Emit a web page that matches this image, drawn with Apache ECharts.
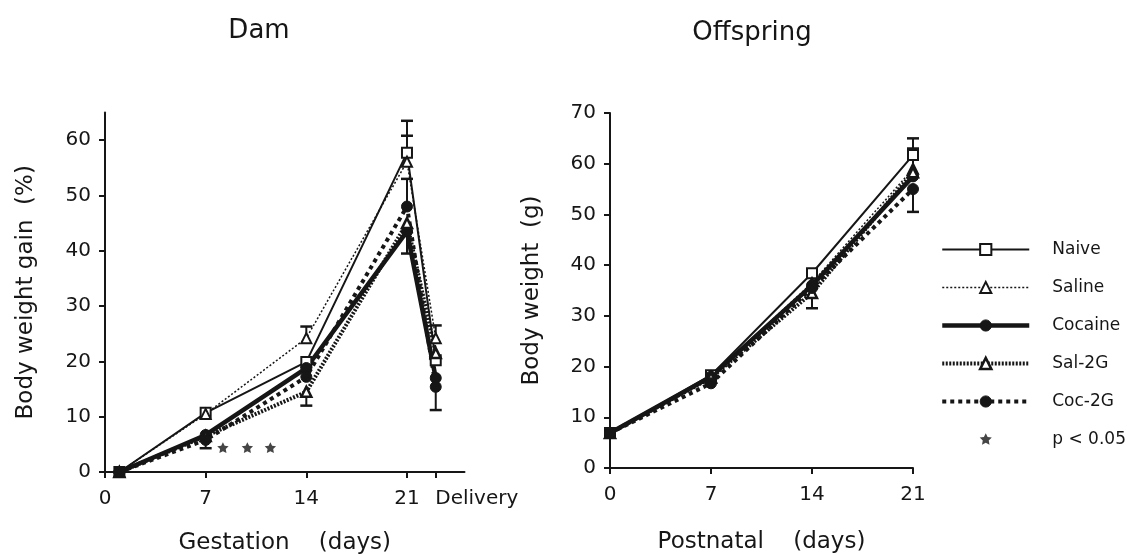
<!DOCTYPE html>
<html><head><meta charset="utf-8">
<script src="https://cdn.jsdelivr.net/npm/echarts@6/dist/echarts.min.js"></script>
<style>html,body{margin:0;padding:0;background:#fff}#c{width:1130px;height:554px}</style>
</head><body><div id="c"></div>
<script>
// ---------- data ----------
const seriesNames = ['Naive', 'Saline', 'Cocaine', 'Sal-2G', 'Coc-2G'];
const sigName = 'p < 0.05';

// Dam (gestation) - body weight gain (%)
const damDays = [1, 7, 14, 21, 23];
const damNaive   = [0, 10.7, 19.9, 57.7, 20.2];
const damSaline  = [0, 10.5, 24.2, 56.1, 24.2];
const damCocaine = [0, 6.7, 18.8, 43.5, 17.0];
const damSal2G   = [0, 6.5, 14.5, 45.0, 21.5];
const damCoc2G   = [0, 5.8, 17.2, 48.0, 15.4];
const damXTickValues = [0, 7, 14, 21, 23];
const damXTickLabels = ['0', '7', '14', '21', 'Delivery'];
const damYTickValues = [0, 10, 20, 30, 40, 50, 60];
// error bars: [day, mean, end of bar]
const damErrors = [[7, 5.8, 4.3], [14, 24.2, 26.3], [14, 14.5, 12.0], [21, 57.7, 63.5], [21, 56.1, 60.8],
                   [21, 48.0, 53.0], [21, 45.0, 39.5], [23, 24.2, 26.5], [23, 15.4, 11.2]];
const damSignificant = [[8.2, 4.3], [9.9, 4.3], [11.5, 4.3]];

// Offspring (postnatal) - body weight (g)
const offDays = [0, 7, 14, 21];
const offNaive   = [6.9, 18.3, 38.4, 61.7];
const offSaline  = [6.9, 18.0, 36.5, 59.0];
const offCocaine = [6.9, 18.0, 36.0, 57.5];
const offSal2G   = [6.9, 17.8, 34.5, 58.3];
const offCoc2G   = [6.9, 16.7, 35.5, 55.0];
const offXTickValues = [0, 7, 14, 21];
const offXTickLabels = ['0', '7', '14', '21'];
const offYTickValues = [0, 10, 20, 30, 40, 50, 60, 70];
const offErrors = [[14, 34.5, 31.5], [21, 61.7, 65.0], [21, 59.0, 63.0], [21, 55.0, 50.5]];

// ---------- styles ----------
const INK = '#161616';
const FONT = 'DejaVu Sans';
const styles = {
  'Naive':   {symbol: 'rect', size: 10, fill: '#fff', lw: 2, dash: 'solid', bw: 2},
  'Saline':  {symbol: 'triangle', size: 10, fill: '#fff', lw: 1.5, dash: [2, 2], bw: 2},
  'Cocaine': {symbol: 'circle', size: 11, fill: INK, lw: 4.5, dash: 'solid', bw: 1},
  'Sal-2G':  {symbol: 'triangle', size: 10, fill: '#fff', lw: 4, dash: [2, 1.5], bw: 2.5},
  'Coc-2G':  {symbol: 'circle', size: 11, fill: INK, lw: 4, dash: [4, 4], bw: 1}
};

function lineSeries(name, days, vals, axisIdx) {
  const s = styles[name];
  return {
    type: 'line', name: name, xAxisIndex: axisIdx, yAxisIndex: axisIdx,
    data: days.map((d, i) => [d, vals[i]]),
    symbol: s.symbol, symbolSize: s.size, showAllSymbol: true,
    lineStyle: {color: INK, width: s.lw, type: s.dash},
    itemStyle: {color: s.fill, borderColor: INK, borderWidth: s.bw},
    emphasis: {disabled: true}, z: 3
  };
}

function errItem(params, api) {
  const x = api.value(0), y0 = api.value(1), y1 = api.value(2);
  const p0 = api.coord([x, y0]), p1 = api.coord([x, y1]);
  const w = 6;
  return {type: 'group', children: [
    {type: 'line', shape: {x1: p0[0], y1: p0[1], x2: p1[0], y2: p1[1]}, style: {stroke: INK, lineWidth: 2}},
    {type: 'line', shape: {x1: p1[0] - w, y1: p1[1], x2: p1[0] + w, y2: p1[1]}, style: {stroke: INK, lineWidth: 2.5}}
  ]};
}
function errSeries(data, axisIdx) {
  return {type: 'custom', xAxisIndex: axisIdx, yAxisIndex: axisIdx, renderItem: errItem,
          data: data, encode: {x: 0, y: [1, 2]}, silent: true, z: 2};
}

const STAR_BODY = 'M0,-10L2.9,-4L9.5,-3.1L4.7,1.5L5.9,8.1L0,5L-5.9,8.1L-4.7,1.5L-9.5,-3.1L-2.9,-4Z';
const STAR = 'path://M-20,-20M20,20' + STAR_BODY;
const STAR_LEGEND = 'path://M-11,-11M11,11' + STAR_BODY;

const axisCommon = {
  axisLine: {lineStyle: {color: INK, width: 2}},
  axisTick: {lineStyle: {color: INK, width: 2}, length: 6},
  splitLine: {show: false},
  axisLabel: {color: INK, fontFamily: FONT, fontSize: 20},
  nameTextStyle: {color: INK, fontFamily: FONT, fontSize: 23}
};

function xAxisDef(grid, min, max, ticks, labels, name, gap) {
  return Object.assign({}, axisCommon, {
    type: 'value', gridIndex: grid, min: min, max: max, name: name,
    nameLocation: 'middle', nameGap: gap,
    axisTick: Object.assign({}, axisCommon.axisTick, {customValues: ticks}),
    axisLabel: Object.assign({}, axisCommon.axisLabel, {
      customValues: ticks, margin: 17,
      formatter: v => {
        const i = ticks.indexOf(v);
        const t = i >= 0 ? labels[i] : '';
        return t === 'Delivery' ? '{d|' + t + '}' : t;
      },
      rich: {d: {fontFamily: FONT, fontSize: 20, color: INK, padding: [0, 0, 0, 82]}}
    })
  });
}
function yAxisDef(grid, max, ticks, name, gap) {
  return Object.assign({}, axisCommon, {
    type: 'value', gridIndex: grid, min: 0, max: max, name: name,
    nameLocation: 'middle', nameGap: gap,
    axisTick: Object.assign({}, axisCommon.axisTick, {customValues: ticks}),
    axisLabel: Object.assign({}, axisCommon.axisLabel, {customValues: ticks, margin: 14})
  });
}

const chart = echarts.init(document.getElementById('c'), null, {renderer: 'canvas'});
const series = [];
const damVals = [damNaive, damSaline, damCocaine, damSal2G, damCoc2G];
const offVals = [offNaive, offSaline, offCocaine, offSal2G, offCoc2G];
seriesNames.forEach((n, i) => series.push(lineSeries(n, damDays, damVals[i], 0)));
seriesNames.forEach((n, i) => series.push(lineSeries(n, offDays, offVals[i], 1)));
series.push(errSeries(damErrors, 0));
series.push(errSeries(offErrors, 1));
series.push({
  type: 'scatter', name: sigName, xAxisIndex: 0, yAxisIndex: 0, data: damSignificant,
  symbol: STAR, symbolSize: 24, itemStyle: {color: INK}, silent: true, z: 4
});

const legendData = seriesNames.map(n => ({
  name: n,
  lineStyle: {color: INK, width: styles[n].lw, type: styles[n].dash},
  itemStyle: {color: styles[n].fill, borderColor: INK, borderWidth: styles[n].bw}
}));
legendData.push({name: sigName, icon: STAR_LEGEND, itemStyle: {color: INK}});

chart.setOption({
  animation: false,
  backgroundColor: '#fff',
  title: [
    {text: 'Dam', left: 254, top: 13, textAlign: 'center',
     textStyle: {fontFamily: FONT, fontSize: 26, fontWeight: 'normal', color: INK}},
    {text: 'Offspring', left: 747, top: 15, textAlign: 'center',
     textStyle: {fontFamily: FONT, fontSize: 26, fontWeight: 'normal', color: INK}}
  ],
  grid: [
    {left: 105, top: 112.5, width: 359.5, height: 359.5, outerBoundsMode: 'none', containLabel: false},
    {left: 610, top: 113, width: 303, height: 355, outerBoundsMode: 'none', containLabel: false}
  ],
  xAxis: [
    xAxisDef(0, 0, 25, damXTickValues, damXTickLabels, 'Gestation    (days)', 60),
    xAxisDef(1, 0, 21, offXTickValues, offXTickLabels, 'Postnatal    (days)', 63)
  ],
  yAxis: [
    yAxisDef(0, 65, damYTickValues, 'Body weight gain  (%)', 67),
    yAxisDef(1, 70, offYTickValues, 'Body weight  (g)', 66)
  ],
  legend: {
    orient: 'vertical', left: 935, top: 236, itemWidth: 87, itemHeight: 14, itemGap: 21,
    selectedMode: false,
    data: legendData,
    textStyle: {color: INK, fontFamily: FONT, fontSize: 17, padding: [0, 0, 0, 18]}
  },
  series: series
});
</script></body></html>
